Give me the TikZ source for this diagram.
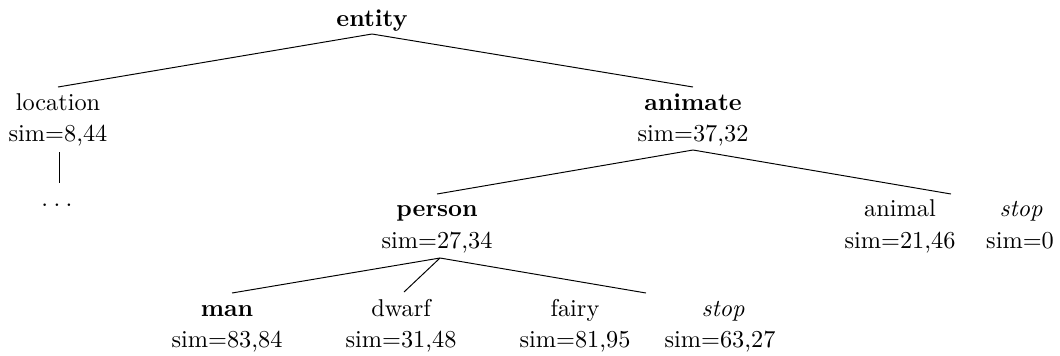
\documentclass[tikz,border=0pt]{standalone}
\begin{document}
\begin{tikzpicture}[x=0.4115pt,y=-0.4115pt,
  lbl/.style={anchor=base, inner sep=0pt},
  edge/.style={line width=0.4pt}]
\useasboundingbox (0,0) rectangle (1060,355);
% labels
\node[lbl] (entity) at (372,26) {\textbf{entity}};
\node[lbl] (location) at (58,110) {location};
\node[lbl] (locsim) at (58,141) {sim=8,44};
\node[lbl] (dots) at (57,206) {$.\mkern4mu.\mkern4mu.$};
\node[lbl] (animate) at (693,110) {\textbf{animate}};
\node[lbl] (animsim) at (693,141) {sim=37,32};
\node[lbl] (person) at (437,216) {\textbf{person}};
\node[lbl] (persim) at (437,248) {sim=27,34};
\node[lbl] (animal) at (900,216) {animal};
\node[lbl] (animalsim) at (900,248) {sim=21,46};
\node[lbl] (stopa) at (1021,216) {\textit{stop}};
\node[lbl] (stopasim) at (1020,248) {sim=0};
\node[lbl] (man) at (227,316) {\textbf{man}};
\node[lbl] (mansim) at (227,347) {sim=83,84};
\node[lbl] (dwarf) at (401,316) {dwarf};
\node[lbl] (dwarfsim) at (401,347) {sim=31,48};
\node[lbl] (fairy) at (575,316) {fairy};
\node[lbl] (fairysim) at (575,347) {sim=81,95};
\node[lbl] (stopb) at (723,316) {\textit{stop}};
\node[lbl] (stopbsim) at (720,347) {sim=63,27};
% edge end points
\coordinate (entity-s) at (372,34);
\coordinate (location-n) at (58,87);
\coordinate (animate-n) at (693,87);
\coordinate (location-s) at (59,152);
\coordinate (dots-n) at (59,183);
\coordinate (animate-s) at (693,150);
\coordinate (person-n) at (437,194);
\coordinate (animal-n) at (951,194);
\coordinate (person-s) at (440,258);
\coordinate (man-n) at (232,293);
\coordinate (dwarf-n) at (404,292);
\coordinate (fairy-n) at (646,293);
% edges
\draw[edge] (location-n) -- (entity-s) -- (animate-n);
\draw[edge] (location-s) -- (dots-n);
\draw[edge] (person-n) -- (animate-s) -- (animal-n);
\draw[edge] (man-n) -- (person-s) -- (fairy-n);
\draw[edge] (person-s) -- (dwarf-n);
\end{tikzpicture}
\end{document}
